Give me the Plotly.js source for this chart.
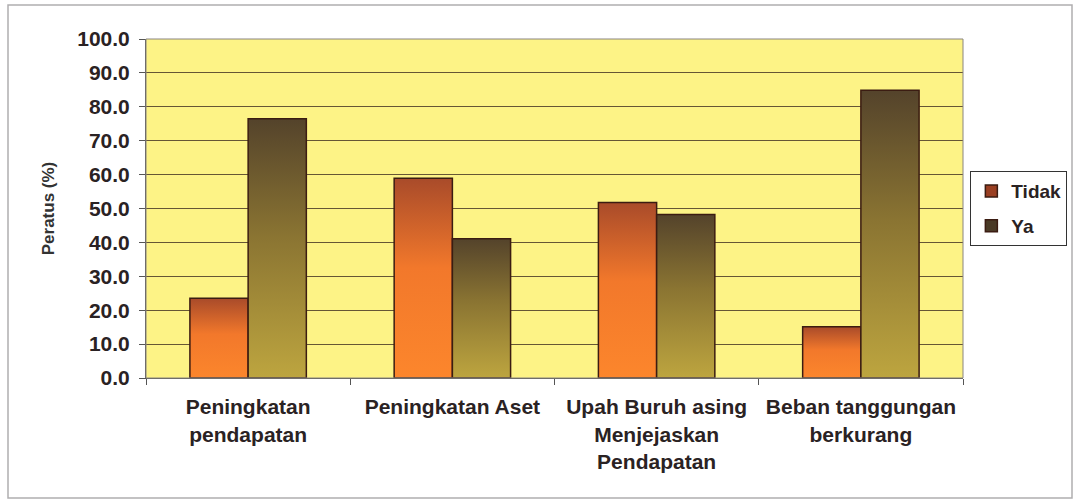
<!DOCTYPE html>
<html>
<head>
<meta charset="utf-8">
<script src="https://cdn.plot.ly/plotly-3.0.1.min.js"></script>
<style>html,body{margin:0;padding:0;background:#fff;}#chart{width:1076px;height:499px;}</style>
</head>
<body>
<div id="chart"></div>
<script>
const categories = [
  "Peningkatan<br>pendapatan",
  "Peningkatan Aset",
  "Upah Buruh asing<br>Menjejaskan<br>Pendapatan",
  "Beban tanggungan<br>berkurang"
];
const seriesNames = ["Tidak", "Ya"];
const tidakValues = [23.5, 58.9, 51.8, 15.1];
const yaValues = [76.5, 41.1, 48.2, 84.9];
const yTickValues = [0, 10, 20, 30, 40, 50, 60, 70, 80, 90, 100];

const fontFam = "Arial, 'Liberation Sans', sans-serif";
const gradients = [
  ["#a94b2a", "#f2782b", "#fc862c"],
  ["#54432b", "#8a7432", "#bda53f"]
];

const traces = [
  {type: "bar", name: seriesNames[0], x: categories, y: tidakValues,
   legendgroup: "a",
   marker: {color: "#9a3f22", line: {color: "#3b1c12", width: 1.5}}},
  {type: "bar", name: seriesNames[1], x: categories, y: yaValues,
   legendgroup: "b",
   marker: {color: "#4a3a26", line: {color: "#3b1c12", width: 1.5}}}
];

const layout = {
  width: 1076, height: 499,
  margin: {l: 146, r: 113, t: 39, b: 121, autoexpand: false},
  paper_bgcolor: "#ffffff",
  plot_bgcolor: "#fdf386",
  barmode: "group",
  bargap: 0.43,
  bargroupgap: 0,
  showlegend: true,
  font: {family: fontFam, color: "#2a2223"},
  xaxis: {
    type: "category",
    tickson: "boundaries",
    ticks: "outside", ticklen: 6, tickcolor: "#555",
    showline: true, linecolor: "#555", linewidth: 1,
    mirror: false,
    showgrid: false,
    automargin: false,
    tickfont: {family: fontFam, size: 21, weight: "bold", color: "#2a2223"},
    ticklabelstandoff: 10
  },
  yaxis: {
    range: [0, 100],
    tickvals: yTickValues,
    tickformat: ".1f",
    ticks: "outside", ticklen: 6, tickcolor: "#555",
    showline: true, linecolor: "#555", linewidth: 1,
    showgrid: true, gridcolor: "#665634", gridwidth: 1,
    zeroline: false,
    automargin: false,
    tickfont: {family: fontFam, size: 21, weight: "bold", color: "#2a2223"},
    ticklabelstandoff: 5,
    title: {text: "Peratus (%)", standoff: 18,
            font: {family: fontFam, size: 17, weight: "bold", color: "#333"}}
  },
  legend: {
    x: 1.009, xanchor: "left",
    y: 0.61, yanchor: "top",
    bgcolor: "#ffffff",
    bordercolor: "#333", borderwidth: 1,
    traceorder: "grouped", tracegroupgap: 7,
    font: {family: fontFam, size: 19, weight: "bold", color: "#2a2223"},
    itemwidth: 30
  },
  shapes: [
    {type: "rect", xref: "paper", yref: "paper",
     x0: (8 - 146) / 817, x1: (1072 - 146) / 817,
     y0: (378 - 498) / 339, y1: (378 - 5) / 339,
     line: {color: "#b0aeb0", width: 1.5}, layer: "below"},
    {type: "rect", xref: "paper", yref: "paper",
     x0: 0, x1: 1, y0: 0, y1: 1,
     line: {color: "#8a8580", width: 1}, layer: "above"}
  ]
};

function applyGradients(gd) {
  const svg = gd.querySelector("svg.main-svg");
  let defs = svg.querySelector("defs");
  if (!defs) { defs = document.createElementNS("http://www.w3.org/2000/svg", "defs"); svg.insertBefore(defs, svg.firstChild); }
  gradients.forEach((stops, i) => {
    const id = "barGrad" + i;
    if (!svg.querySelector("#" + id)) {
      const lg = document.createElementNS("http://www.w3.org/2000/svg", "linearGradient");
      lg.setAttribute("id", id);
      lg.setAttribute("x1", "0"); lg.setAttribute("y1", "0");
      lg.setAttribute("x2", "0"); lg.setAttribute("y2", "1");
      [[0, stops[0]], [0.45, stops[1]], [1, stops[2]]].forEach(([o, c]) => {
        const s = document.createElementNS("http://www.w3.org/2000/svg", "stop");
        s.setAttribute("offset", o); s.setAttribute("stop-color", c);
        lg.appendChild(s);
      });
      defs.appendChild(lg);
    }
  });
  const traceGroups = gd.querySelectorAll(".barlayer .trace");
  traceGroups.forEach((g, i) => {
    g.querySelectorAll(".point path").forEach(p => { p.style.fill = "url(#barGrad" + i + ")"; });
  });
}

Plotly.newPlot("chart", traces, layout, {displayModeBar: false, staticPlot: true}).then(gd => {
  applyGradients(gd);
  gd.on("plotly_afterplot", () => applyGradients(gd));
});
</script>
</body>
</html>
